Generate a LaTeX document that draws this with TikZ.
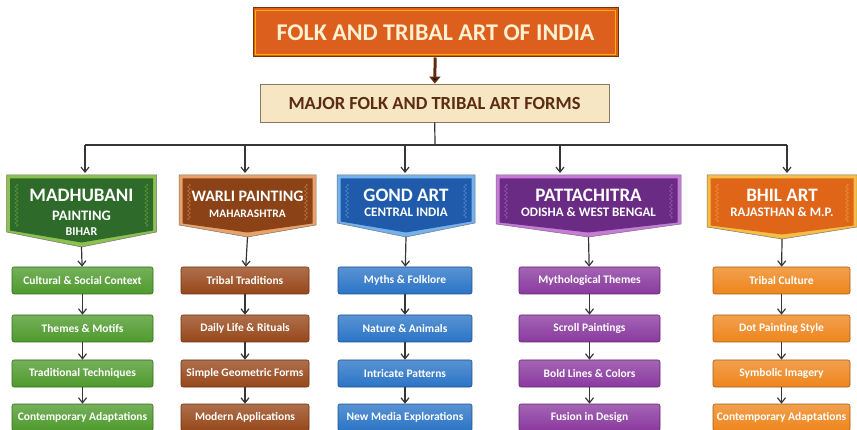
\documentclass[tikz,border=0pt]{standalone}
\usepackage{fontspec}
\setmainfont{Carlito}
\usetikzlibrary{arrows.meta,decorations.pathmorphing}

\definecolor{titleor}{HTML}{DD5F1E}
\definecolor{titleedge}{HTML}{7A3410}
\definecolor{titletxt}{HTML}{FFF1D2}
\definecolor{formcream}{HTML}{F6E6C4}
\definecolor{formedge}{HTML}{8C7862}
\definecolor{formtxt}{HTML}{5B2C10}
\definecolor{arrowgray}{HTML}{363636}
\definecolor{maddark}{HTML}{2E6B2A}
\definecolor{madlight}{HTML}{8CC152}
\definecolor{maditem}{HTML}{4E9A2C}
\definecolor{wardark}{HTML}{8A4216}
\definecolor{warlight}{HTML}{E9A26A}
\definecolor{waritem}{HTML}{974719}
\definecolor{gonddark}{HTML}{1F5BAA}
\definecolor{gondlight}{HTML}{74B2EE}
\definecolor{gonditem}{HTML}{2A74C6}
\definecolor{patdark}{HTML}{6A2B84}
\definecolor{patlight}{HTML}{C77AD8}
\definecolor{patitem}{HTML}{8A399F}
\definecolor{bhildark}{HTML}{DF6519}
\definecolor{bhillight}{HTML}{F6BE45}
\definecolor{bhilitem}{HTML}{EE851C}

\newcommand{\formbig}{\fontsize{19}{21}\selectfont}
\newcommand{\formsmall}{\fontsize{13}{15}\selectfont}

% header plate with a pointed bottom: name, x, half width, side bottom, tip, colour, text y, text
\newcommand{\artform}[8]{%
  \filldraw[draw=black!55, line width=0.5pt, fill=#6light] (#2-#3,175) -- (#2+#3,175) -- (#2+#3,#4) -- (#2,#5) -- (#2-#3,#4) -- cycle;
  \fill[#6dark] (#2-#3+3.5,178.5) -- (#2+#3-3.5,178.5) -- (#2+#3-3.5,#4-1.5) -- (#2,#5-4.5) -- (#2-#3+3.5,#4-1.5) -- cycle;
  \draw[#6light, opacity=0.55, line width=0.5pt, decorate, decoration={zigzag,segment length=4pt,amplitude=1.5pt}] (#2-#3+10,184) -- (#2-#3+10,#4-5);
  \draw[#6light, opacity=0.55, line width=0.5pt, decorate, decoration={zigzag,segment length=4pt,amplitude=1.5pt}] (#2+#3-10,184) -- (#2+#3-10,#4-5);
  \coordinate (#1p) at (#2,#5);
  \node[formtitle] (#1) at (#2,#7) {#8};
}

\begin{document}
\begin{tikzpicture}[x=1pt, y=-1pt]
    \useasboundingbox (0,0) rectangle (857,430);
    \begin{scope}[titlebox/.style={draw=titleedge, fill=titleor, line width=1pt, minimum width=365pt, minimum height=49pt, text=titletxt, font=\bfseries\fontsize{24}{26}\selectfont},
        formsbox/.style={draw=formedge, fill=formcream, line width=0.8pt, minimum width=349pt, minimum height=38pt, text=formtxt, font=\bfseries\fontsize{18.5}{20}\selectfont},
        formtitle/.style={text=white, align=center, font=\bfseries, inner sep=0pt},
        itembox/.style={rounded corners=2pt, minimum height=27pt, inner sep=1pt, text=white, font=\bfseries\fontsize{11.5}{13}\selectfont, top color=#1!78!white, bottom color=#1, draw=#1!70!black, line width=0.6pt},
        link/.style={draw=arrowgray, line width=1.2pt, -{Straight Barb[length=5pt,width=8pt,line width=1.2pt]}}]

        \node[titlebox] (a0) at (435.5,32.5) {FOLK AND TRIBAL ART OF INDIA};
        \draw[orange!60!yellow, line width=0.6pt] ([shift={(3,3)}]a0.north west) rectangle ([shift={(-3,-3)}]a0.south east);
        \node[formsbox] (a1) at (434.5,103) {MAJOR FOLK AND TRIBAL ART FORMS};

        \artform{h1}{81.5}{75}{232}{247}{mad}{212.5}{{\formbig MADHUBANI}\\[7pt]{\fontsize{14.5}{16}\selectfont PAINTING}\\[3pt]{\fontsize{12}{14}\selectfont BIHAR}}
        \artform{h2}{247.5}{68.5}{225}{237}{war}{204}{{\fontsize{16}{18}\selectfont WARLI PAINTING}\\[4pt]{\fontsize{11.5}{13}\selectfont MAHARASHTRA}}
        \artform{h3}{406}{69}{223}{237}{gond}{202.5}{{\formbig GOND ART}\\[3pt]{\formsmall CENTRAL INDIA}}
        \artform{h4}{588.5}{92.5}{224}{237}{pat}{202.5}{{\formbig PATTACHITRA}\\[3pt]{\formsmall ODISHA \& WEST BENGAL}}
        \artform{h5}{782}{75}{227}{239}{bhil}{202.5}{{\formbig BHIL ART}\\[3pt]{\formsmall RAJASTHAN \& M.P.}}

        \node[itembox=maditem, minimum width=141pt] (m1) at (82.5,280.5) {Cultural \& Social Context};
        \node[itembox=maditem, minimum width=141pt] (m2) at (82.5,328.5) {Themes \& Motifs};
        \node[itembox=maditem, minimum width=141pt] (m3) at (82.5,373.5) {Traditional Techniques};
        \node[itembox=maditem, minimum width=141pt] (m4) at (82.5,417.5) {Contemporary Adaptations};

        \node[itembox=waritem, minimum width=128pt] (w1) at (245,280.5) {Tribal Traditions};
        \node[itembox=waritem, minimum width=128pt] (w2) at (245,328.5) {Daily Life \& Rituals};
        \node[itembox=waritem, minimum width=128pt] (w3) at (245,373.5) {Simple Geometric Forms};
        \node[itembox=waritem, minimum width=128pt] (w4) at (245,417.5) {Modern Applications};

        \node[itembox=gonditem, minimum width=134pt] (g1) at (405,280.5) {Myths \& Folklore};
        \node[itembox=gonditem, minimum width=134pt] (g2) at (405,328.5) {Nature \& Animals};
        \node[itembox=gonditem, minimum width=134pt] (g3) at (405,373.5) {Intricate Patterns};
        \node[itembox=gonditem, minimum width=134pt] (g4) at (405,417.5) {New Media Explorations};

        \node[itembox=patitem, minimum width=141pt] (p1) at (589.5,280.5) {Mythological Themes};
        \node[itembox=patitem, minimum width=141pt] (p2) at (589.5,328.5) {Scroll Paintings};
        \node[itembox=patitem, minimum width=141pt] (p3) at (589.5,373.5) {Bold Lines \& Colors};
        \node[itembox=patitem, minimum width=141pt] (p4) at (589.5,417.5) {Fusion in Design};

        \node[itembox=bhilitem, minimum width=137pt] (b1) at (781.5,280.5) {Tribal Culture};
        \node[itembox=bhilitem, minimum width=137pt] (b2) at (781.5,328.5) {Dot Painting Style};
        \node[itembox=bhilitem, minimum width=137pt] (b3) at (781.5,373.5) {Symbolic Imagery};
        \node[itembox=bhilitem, minimum width=137pt] (b4) at (781.5,417.5) {Contemporary Adaptations};

        % top arrow and the bus to the five forms
        \path[draw=titleedge!80!black, line width=3pt, -{Triangle[length=7pt,width=11pt]}] (a0) edge (a1);
        \coordinate (j0) at (435,145);
        \coordinate (j1) at (85,145);
        \coordinate (j2) at (245,145);
        \coordinate (j3) at (405,145);
        \coordinate (j4) at (560,145);
        \coordinate (j5) at (787,145);
        \draw[arrowgray, line width=1.2pt] (a1) -- (j0);
        \draw[arrowgray, line width=1.2pt] (j1) -- (j5);

        \begin{scope}[every edge/.append style={link}]
        \path (j1) edge (j1 |- 0,173) (j2) edge (j2 |- 0,173) (j3) edge (j3 |- 0,173)
            (j4) edge (j4 |- 0,173) (j5) edge (j5 |- 0,173);
        \path (h1p) edge (m1) (m1) edge (m2) (m2) edge (m3) (m3) edge (m4);
        \path (h2p) edge (w1) (w1) edge (w2) (w2) edge (w3) (w3) edge (w4);
        \path (h3p) edge (g1) (g1) edge (g2) (g2) edge (g3) (g3) edge (g4);
        \path (h4p) edge (p1) (p1) edge (p2) (p2) edge (p3) (p3) edge (p4);
        \path (h5p) edge (b1) (b1) edge (b2) (b2) edge (b3) (b3) edge (b4);
        \end{scope}
    \end{scope}
\end{tikzpicture}
\end{document}
